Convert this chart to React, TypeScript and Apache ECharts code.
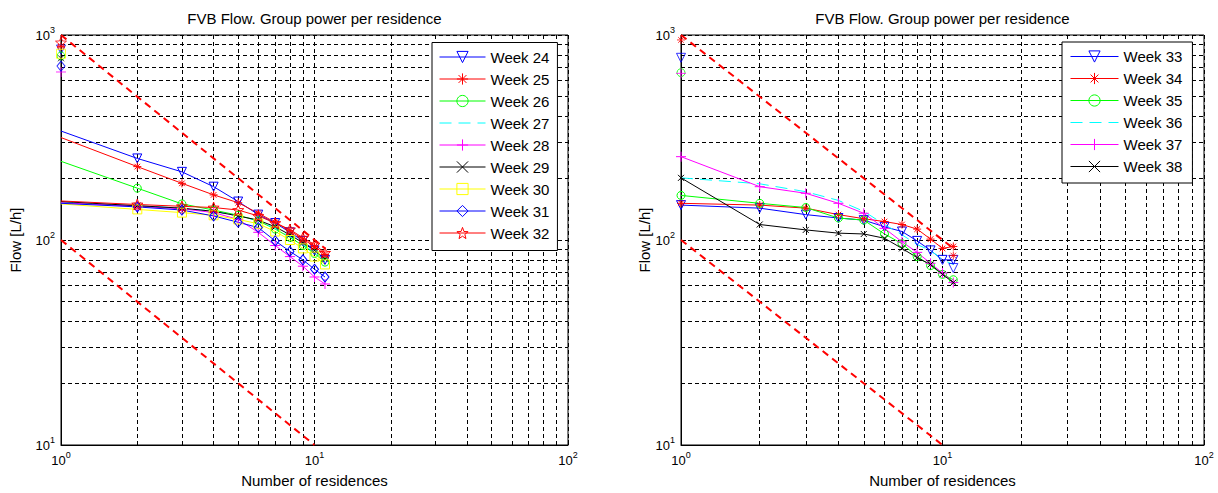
import React, { useEffect, useRef } from 'react';
import * as echarts from 'echarts';

// ---------- data ----------
const residences = [1, 2, 3, 4, 5, 6, 7, 8, 9, 10, 11];

const leftWeeks = ['Week 24', 'Week 25', 'Week 26', 'Week 27', 'Week 28', 'Week 29', 'Week 30', 'Week 31', 'Week 32'];
const week24 = [340, 250, 215, 182, 154, 133, 121, 109, 99, 89, 80];
const week25 = [316, 228, 189, 166, 152, 135, 122, 111, 101, 93, 85];
const week26 = [242, 179, 150, 140, 132, 124, 113, 103, 94, 86, 78];
const week27 = [153, 147, 143, 138, 131, 124, 114, 104, 95, 87, 79];
const week28 = [152, 146, 142, 136, 126, 109, 94, 83, 74.5, 66, 61];
const week29 = [154, 147, 143, 138, 131, 125, 116, 106, 97, 89, 81];
const week30 = [150, 141, 136, 132, 126, 120, 110, 100, 91, 83, 76];
const week31 = [151, 145, 140, 131, 122, 115, 99, 88, 80, 72, 66];
const week32 = [155, 149, 146, 144, 140, 131, 121, 112.5, 102.5, 95, 86.6];
// single (unconnected) markers at one residence
const leftSingle = [850, 880, 790, null, 660, 770, 810, 705, 920];

const rightWeeks = ['Week 33', 'Week 34', 'Week 35', 'Week 36', 'Week 37', 'Week 38'];
const week33 = [148, 143, 133, 128, 125, 116, 110, 99, 89, 80, 80];
const week34 = [151, 148, 143, 133, 127, 123, 119, 113, 101, 91, 93];
const week35 = [165, 151, 144, 128, 125, 107, 96, 83, 75, 68, 64];
const week36 = [201, 188, 172, 156, 138, 119, 106, 95, 89, 80, 76];
const week37 = [255, 182, 169, 151, 135, 114, 98, 87, 77, 69, 62];
const week38 = [201, 119, 112, 108, 107, 102, 91, 82, 76, 68, 62];
const rightSingleFirst = [774, 946, 655, null, 650, null];
const rightSingleLast = [73, 84, null, null, null, null];

// red dashed reference lines (end points)
const refUpper = [[1, 1000], [11, 91]];
const refLower = [[1, 100], [10, 10]];

const xMinorGrid = [2, 3, 4, 5, 6, 7, 8, 9, 20, 30, 40, 50, 60, 70, 80, 90];
const yMinorGrid = [20, 30, 40, 50, 60, 70, 80, 90, 200, 300, 400, 500, 600, 700, 800, 900];

const titleText = 'FVB Flow. Group power per residence';
const xName = 'Number of residences';
const yName = 'Flow [L/h]';

// ---------- styles ----------
const FONT = '"Liberation Sans", Arial, Helvetica, sans-serif';
const PLUS = 'path://M5,0L5,10M0,5L10,5';
const ASTER = 'path://M5,0L5,10M0,5L10,5M1.5,1.5L8.5,8.5M8.5,1.5L1.5,8.5';
const XMARK = 'path://M0,0L10,10M10,0L0,10';
const STAR = (() => {
  let d = '';
  for (let k = 0; k < 10; k++) {
    const r = k % 2 === 0 ? 10 : 4.2;
    const a = ((-90 + k * 36) * Math.PI) / 180;
    d += (k === 0 ? 'M' : 'L') + (10 + r * Math.cos(a)).toFixed(2) + ',' + (10 + r * Math.sin(a)).toFixed(2);
  }
  return 'path://' + d + 'Z';
})();

type St = { color: string; symbol?: string; size?: any; rotate?: number; dashed?: boolean };
const leftStyles: St[] = [
  { color: '#0000ff', symbol: 'triangle', size: 9, rotate: 180 },
  { color: '#ff0000', symbol: ASTER, size: 8 },
  { color: '#00ff00', symbol: 'circle', size: 8 },
  { color: '#00ffff', dashed: true },
  { color: '#ff00ff', symbol: PLUS, size: 10 },
  { color: '#000000', symbol: XMARK, size: 6 },
  { color: '#ffff00', symbol: 'rect', size: 9 },
  { color: '#0000ff', symbol: 'diamond', size: [8, 10] },
  { color: '#ff0000', symbol: STAR, size: 11 },
];
const rightStyles: St[] = [
  { color: '#0000ff', symbol: 'triangle', size: 9, rotate: 180 },
  { color: '#ff0000', symbol: ASTER, size: 8 },
  { color: '#00ff00', symbol: 'circle', size: 8 },
  { color: '#00ffff', dashed: true },
  { color: '#ff00ff', symbol: PLUS, size: 10 },
  { color: '#000000', symbol: XMARK, size: 6 },
];

const DASH = [12, 7];

function symbolProps(s: St) {
  return {
    symbol: s.dashed ? 'circle' : s.symbol,
    symbolSize: s.dashed ? 0 : s.size,
    symbolRotate: s.rotate || 0,
    itemStyle: {
      color: 'rgba(0,0,0,0)',
      borderColor: s.dashed ? 'rgba(0,0,0,0)' : s.color,
      borderWidth: s.dashed ? 0 : 1,
    },
  };
}

function weekSeries(name: string, values: number[], s: St, g: number, hideFirst: boolean) {
  return {
    type: 'line',
    name,
    xAxisIndex: g,
    yAxisIndex: g,
    data: residences.map((x, i) =>
      hideFirst && i === 0 ? { value: [x, values[i]], symbol: 'none' } : [x, values[i]]
    ),
    ...symbolProps(s),
    showSymbol: true,
    showAllSymbol: true,
    lineStyle: { color: s.color, width: 1, type: s.dashed ? DASH : 'solid' },
    emphasis: { disabled: true },
    silent: true,
    z: 3,
  };
}

function singleSeries(name: string, pts: number[][], s: St, g: number) {
  return {
    type: 'scatter',
    name,
    xAxisIndex: g,
    yAxisIndex: g,
    data: pts,
    ...symbolProps(s),
    emphasis: { disabled: true },
    silent: true,
    z: 4,
  };
}

function refSeries(pts: number[][], g: number, withGrid: boolean) {
  const o: any = {
    type: 'line',
    xAxisIndex: g,
    yAxisIndex: g,
    data: pts,
    symbol: 'none',
    lineStyle: { color: '#ff0000', width: 2, type: [7, 5] },
    emphasis: { disabled: true },
    silent: true,
    z: 2,
  };
  if (withGrid) {
    o.markLine = {
      silent: true,
      symbol: ['none', 'none'],
      z: 1,
      label: { show: false },
      emphasis: { disabled: true },
      lineStyle: { color: '#000', type: [4, 3], width: 1 },
      data: [...xMinorGrid.map((v) => ({ xAxis: v })), ...yMinorGrid.map((v) => ({ yAxis: v }))],
    };
  }
  return o;
}

const SUP = (v: number) => `{b|10}{s|${Math.round(Math.log10(v))}}`;
const richLabel = {
  b: { fontSize: 13, lineHeight: 20, fontFamily: FONT, color: '#000' },
  s: { fontSize: 9, lineHeight: 9, verticalAlign: 'top', fontFamily: FONT, color: '#000' },
};

function xAxisCfg(g: number) {
  return {
    type: 'log',
    logBase: 10,
    gridIndex: g,
    min: 1,
    max: 100,
    name: xName,
    nameLocation: 'middle',
    nameGap: 28,
    nameTextStyle: { fontSize: 15, fontFamily: FONT, color: '#000' },
    axisLine: { show: true, lineStyle: { color: '#000', width: 1 } },
    axisTick: { show: true, inside: true, length: 5, lineStyle: { color: '#000' } },
    axisLabel: { formatter: SUP, rich: richLabel, margin: 5 },
    splitLine: { show: true, lineStyle: { color: '#000', type: [4, 3], width: 1 } },
  };
}
function yAxisCfg(g: number, gap: number) {
  return {
    type: 'log',
    logBase: 10,
    gridIndex: g,
    min: 10,
    max: 1000,
    name: yName,
    nameLocation: 'middle',
    nameGap: gap,
    nameTextStyle: { fontSize: 15, fontFamily: FONT, color: '#000' },
    axisLine: { show: true, lineStyle: { color: '#000', width: 1 } },
    axisTick: { show: true, inside: true, length: 5, lineStyle: { color: '#000' } },
    axisLabel: { formatter: SUP, rich: richLabel, margin: 6 },
    splitLine: { show: true, lineStyle: { color: '#000', type: [4, 3], width: 1 } },
  };
}

function legendCfg(names: string[], styles: St[], left: number, top: number, itemWidth: number, padding: number[]) {
  return {
    orient: 'vertical',
    left,
    top,
    data: names.map((n, i) => ({
      name: n,
      lineStyle: { color: styles[i].color, width: 1, type: styles[i].dashed ? DASH : 'solid' },
      itemStyle: {
        color: 'rgba(0,0,0,0)',
        borderColor: styles[i].dashed ? 'rgba(0,0,0,0)' : styles[i].color,
        borderWidth: styles[i].dashed ? 0 : 1,
      },
    })),
    backgroundColor: '#fff',
    borderColor: '#000',
    borderWidth: 1,
    borderRadius: 0,
    padding,
    itemWidth,
    itemHeight: 14,
    itemGap: 7,
    selectedMode: false,
    textStyle: { fontSize: 15, fontFamily: FONT, color: '#000', lineHeight: 14 },
    z: 10,
  };
}

export default function App() {
  const ref = useRef<HTMLDivElement>(null);
  useEffect(() => {
    if (!ref.current) return;
    const chart = echarts.init(ref.current, undefined, { renderer: 'svg' });

    const leftData = [week24, week25, week26, week27, week28, week29, week30, week31, week32];
    const rightData = [week33, week34, week35, week36, week37, week38];

    const series: any[] = [
      refSeries(refUpper, 0, true),
      refSeries(refLower, 0, false),
      refSeries(refUpper, 1, true),
      refSeries(refLower, 1, false),
    ];
    leftWeeks.forEach((n, i) => series.push(weekSeries(n, leftData[i], leftStyles[i], 0, true)));
    rightWeeks.forEach((n, i) => series.push(weekSeries(n, rightData[i], rightStyles[i], 1, false)));
    leftWeeks.forEach((n, i) => {
      if (leftSingle[i] != null) series.push(singleSeries(n, [[residences[0], leftSingle[i] as number]], leftStyles[i], 0));
    });
    rightWeeks.forEach((n, i) => {
      const pts: number[][] = [];
      if (rightSingleFirst[i] != null) pts.push([residences[0], rightSingleFirst[i] as number]);
      if (rightSingleLast[i] != null) pts.push([residences[residences.length - 1], rightSingleLast[i] as number]);
      if (pts.length) series.push(singleSeries(n, pts, rightStyles[i], 1));
    });

    chart.setOption({
      animation: false,
      backgroundColor: '#fff',
      textStyle: { fontFamily: FONT },
      grid: [
        { left: 61, top: 35, width: 507, height: 411, show: true, borderColor: '#000', borderWidth: 1, backgroundColor: '#fff' },
        { left: 681, top: 35, width: 523, height: 414, show: true, borderColor: '#000', borderWidth: 1, backgroundColor: '#fff' },
      ],
      xAxis: [xAxisCfg(0), xAxisCfg(1)],
      yAxis: [yAxisCfg(0, 38), yAxisCfg(1, 26)],
      legend: [
        legendCfg(leftWeeks, leftStyles, 432, 42.5, 46, [7, 8, 10, 7]),
        legendCfg(rightWeeks, rightStyles, 1062, 42, 48, [7, 10, 9, 8]),
      ],
      graphic: [
        { type: 'text', x: 314.5, y: 18, style: { text: titleText, font: `15px ${FONT}`, fill: '#000', align: 'center', verticalAlign: 'middle' } },
        { type: 'text', x: 942.5, y: 18, style: { text: titleText, font: `15px ${FONT}`, fill: '#000', align: 'center', verticalAlign: 'middle' } },
      ],
      series,
    });
    return () => chart.dispose();
  }, []);
  return <div ref={ref} style={{ position: 'absolute', left: 0, top: 0, width: 1218, height: 493 }} />;
}
